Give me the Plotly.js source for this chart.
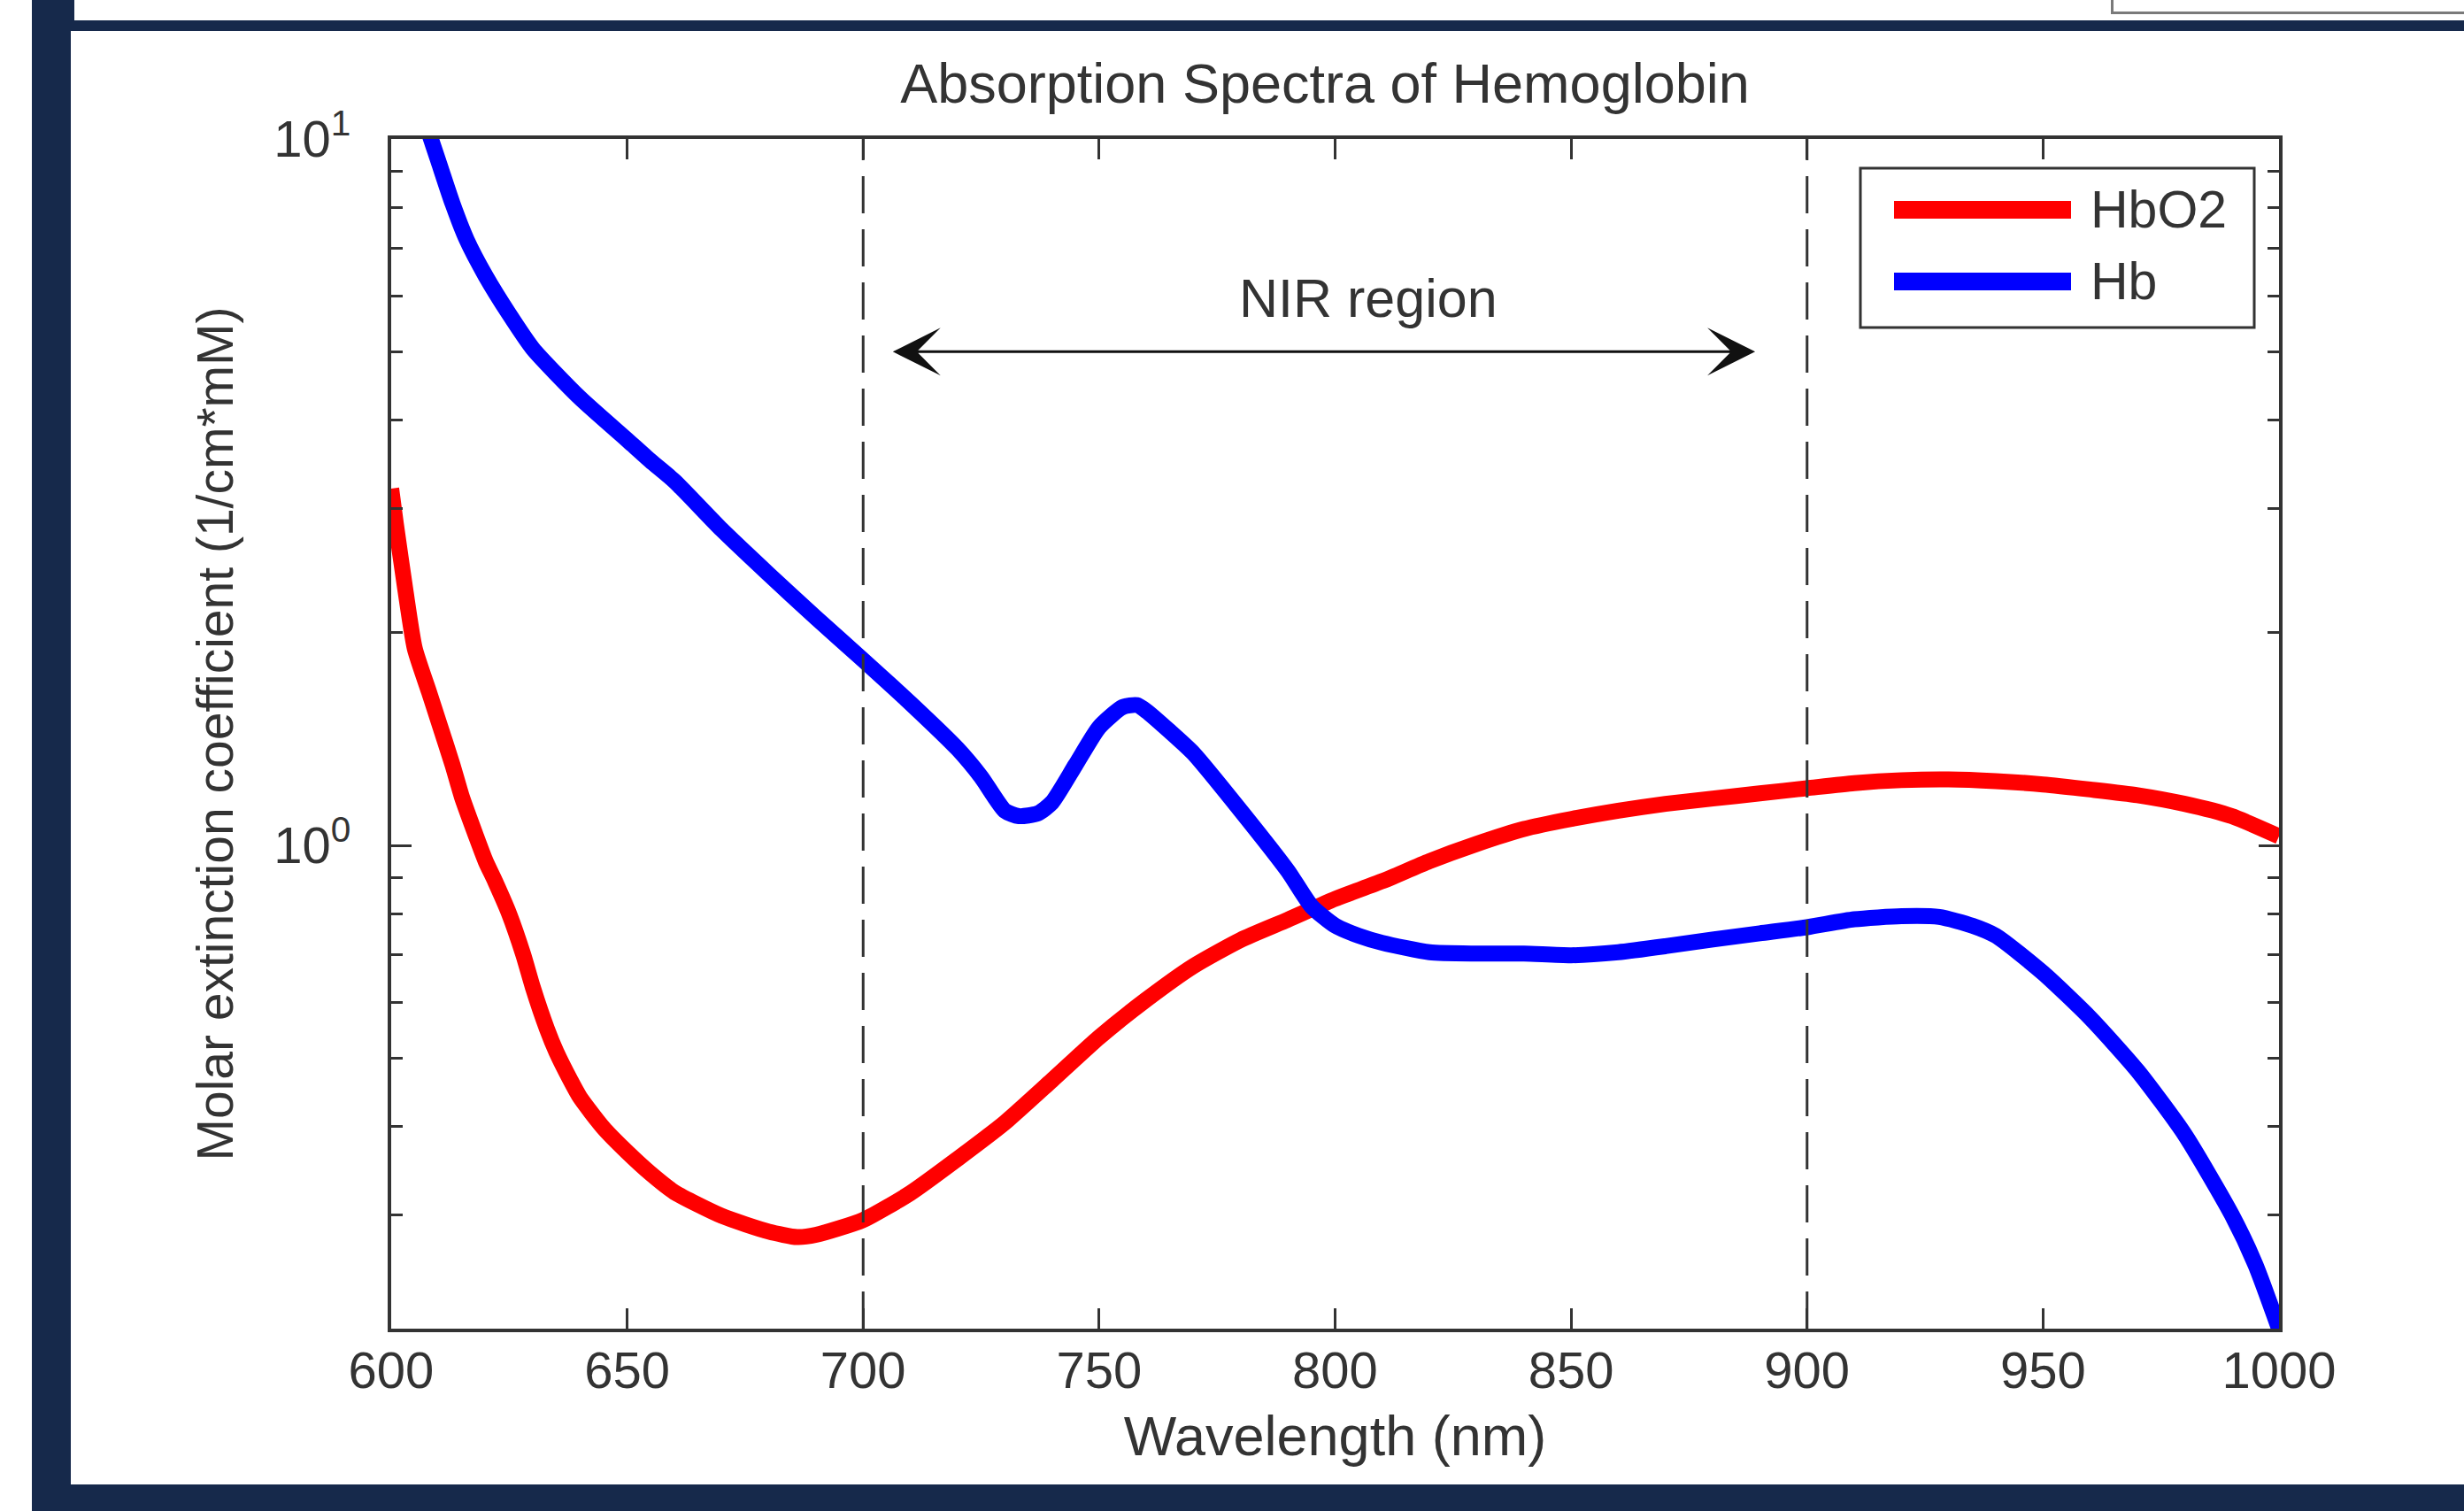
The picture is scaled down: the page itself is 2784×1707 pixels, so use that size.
<!DOCTYPE html>
<html>
<head>
<meta charset="utf-8">
<script src="https://cdn.plot.ly/plotly-3.0.1.min.js"></script>
<style>
  html, body { margin: 0; padding: 0; background: #ffffff; }
  #wrap { position: relative; width: 2784px; height: 1707px; overflow: hidden; background: #ffffff; }
  #chart { position: absolute; left: 0; top: 0; width: 2784px; height: 1707px; }
  .band { position: absolute; background: #16294b; z-index: 5; }
  #topbox { position: absolute; left: 2385px; top: -6px; width: 420px; height: 16px; border: 3px solid #7a7a7a; background: #fff; z-index: 5; }
</style>
</head>
<body>
<div id="wrap">
  <div id="chart"></div>
  <div class="band" style="left:36px; top:0px; width:44px; height:1707px;"></div>
  <div class="band" style="left:36px; top:0px; width:48px; height:35px;"></div>
  <div class="band" style="left:80px; top:23px; width:2704px; height:12px;"></div>
  <div class="band" style="left:36px; top:1677px; width:2748px; height:30px;"></div>
  <div id="topbox"></div>
</div>
<script>
// ---- data ----
var hbo2Wavelength = [600, 601, 603, 605, 608, 610, 613, 615, 618, 620, 622, 625, 628, 630, 633, 635, 638, 640, 645, 650, 655, 660, 670, 680, 686, 690, 700, 710, 720, 730, 740, 750, 760, 770, 780, 790, 800, 810, 820, 830, 840, 850, 860, 870, 880, 890, 900, 910, 920, 930, 940, 950, 960, 970, 980, 990, 1000];
var hbo2Values = [3.2, 2.85, 2.3, 1.9, 1.65, 1.5, 1.3, 1.17, 1.03, 0.95, 0.89, 0.8, 0.7, 0.63, 0.55, 0.51, 0.465, 0.44, 0.398, 0.368, 0.343, 0.323, 0.299, 0.284, 0.279, 0.281, 0.295, 0.322, 0.36, 0.405, 0.465, 0.535, 0.605, 0.675, 0.735, 0.785, 0.84, 0.89, 0.95, 1.005, 1.055, 1.09, 1.12, 1.145, 1.165, 1.185, 1.205, 1.225, 1.237, 1.24, 1.233, 1.22, 1.2, 1.178, 1.145, 1.1, 1.03];

var hbWavelength = [600, 605, 608, 610, 613, 616, 620, 625, 630, 640, 650, 655, 660, 670, 680, 690, 700, 710, 720, 725, 730, 733, 737, 740, 745, 750, 755, 758, 760, 765, 770, 780, 790, 795, 800, 805, 810, 820, 830, 840, 850, 860, 870, 880, 890, 900, 910, 920, 928, 935, 940, 950, 960, 970, 980, 990, 995, 1000];
var hbValues = [14.5, 11.8, 10.2, 9.3, 8.1, 7.2, 6.4, 5.65, 5.05, 4.3, 3.75, 3.5, 3.28, 2.8, 2.42, 2.1, 1.83, 1.59, 1.37, 1.25, 1.12, 1.1, 1.11, 1.15, 1.3, 1.47, 1.57, 1.58, 1.55, 1.45, 1.35, 1.12, 0.92, 0.82, 0.77, 0.745, 0.728, 0.706, 0.703, 0.703, 0.699, 0.706, 0.72, 0.736, 0.751, 0.766, 0.786, 0.794, 0.792, 0.77, 0.745, 0.66, 0.57, 0.48, 0.39, 0.30, 0.255, 0.207];

var seriesNames = ['HbO2', 'Hb'];
var seriesColors = ['#ff0000', '#0000ff'];

var xTickVals = [600, 650, 700, 750, 800, 850, 900, 950, 1000];
var xTickText = ['600', '650', '700', '750', '800', '850', '900', '950', '1000'];
var yTickVals = [1, 10];
var yTickText = ['10<sup>0</sup>', '10<sup>1</sup>'];
var yMinorVals = [0.3, 0.4, 0.5, 0.6, 0.7, 0.8, 0.9, 2, 3, 4, 5, 6, 7, 8, 9];

var nirBounds = [700, 900];
var nirArrow = [706, 889];
var nirArrowLevel = 5;
var nirLabel = 'NIR region';
var nirLabelPos = [807, 5.95];

var yRange = [0.207, 10];
var xRange = [600, 1000];

var chartTitle = 'Absorption Spectra of Hemoglobin';
var xTitle = 'Wavelength (nm)';
var yTitle = 'Molar extinction coefficient (1/cm*mM)';

// ---- figure ----
var W = 2784, H = 1707;
var M = {l: 442, r: 209, t: 157, b: 206};
var PW = W - M.l - M.r, PH = H - M.t - M.b;
function px2x(px) { return (px - M.l) / PW; }
function px2y(py) { return 1 - (py - M.t) / PH; }

var FONT = '"Liberation Sans", Arial, Helvetica, sans-serif';
var TXT = '#333333';

var traces = [
  {x: hbo2Wavelength, y: hbo2Values, type: 'scatter', mode: 'lines', name: seriesNames[0],
   line: {color: seriesColors[0], width: 18, shape: 'spline', smoothing: 0.6}, showlegend: false},
  {x: hbWavelength, y: hbValues, type: 'scatter', mode: 'lines', name: seriesNames[1],
   line: {color: seriesColors[1], width: 18, shape: 'spline', smoothing: 0.6}, showlegend: false}
];

var shapes = [];
nirBounds.forEach(function (b) {
  shapes.push({type: 'line', xref: 'x', yref: 'paper', x0: b, x1: b, y0: 0, y1: 1,
    line: {color: '#333333', width: 3, dash: '42px,18px'}, layer: 'above'});
});
// legend box (custom, to match long line samples)
var lg = {x0: 2102, x1: 2547, y0: 190, y1: 370};
shapes.push({type: 'rect', xref: 'paper', yref: 'paper', x0: px2x(lg.x0), x1: px2x(lg.x1), y0: px2y(lg.y1), y1: px2y(lg.y0),
  line: {color: '#333333', width: 3}, fillcolor: '#ffffff', layer: 'above'});
var legendRows = [237, 318];
var annotations = [];
seriesNames.forEach(function (nm, i) {
  shapes.push({type: 'line', xref: 'paper', yref: 'paper', x0: px2x(2140), x1: px2x(2340), y0: px2y(legendRows[i]), y1: px2y(legendRows[i]),
    line: {color: seriesColors[i], width: 20}, layer: 'above'});
  annotations.push({xref: 'paper', yref: 'paper', x: px2x(2360), y: px2y(legendRows[i]), xanchor: 'left', yanchor: 'middle',
    text: nm, showarrow: false, font: {family: FONT, size: 59, color: TXT}});
});

annotations.push({xref: 'x', yref: 'y', axref: 'x', ayref: 'y',
  x: nirArrow[1], y: Math.log10(nirArrowLevel), ax: nirArrow[0], ay: Math.log10(nirArrowLevel),
  text: '', showarrow: true, arrowside: 'end+start', arrowhead: 3, startarrowhead: 3,
  arrowsize: 3, startarrowsize: 3, arrowwidth: 3, arrowcolor: '#111111', standoff: 0, startstandoff: 0});
annotations.push({xref: 'x', yref: 'y', x: nirLabelPos[0], y: Math.log10(nirLabelPos[1]),
  text: nirLabel, showarrow: false, xanchor: 'center', yanchor: 'middle',
  font: {family: FONT, size: 61, color: TXT}});

var layout = {
  width: W, height: H,
  margin: {l: M.l, r: M.r, t: M.t, b: M.b, pad: 0},
  paper_bgcolor: '#ffffff', plot_bgcolor: '#ffffff',
  showlegend: false,
  font: {family: FONT, size: 58, color: TXT},
  title: {text: chartTitle, font: {family: FONT, size: 63, color: TXT},
    xref: 'container', yref: 'container', x: 1497 / W, xanchor: 'center', y: 1 - 94 / H, yanchor: 'middle'},
  xaxis: {
    range: xRange, tickmode: 'array', tickvals: xTickVals, ticktext: xTickText,
    ticks: 'inside', ticklen: 23, tickwidth: 3, tickcolor: '#333333',
    showline: true, linewidth: 4, linecolor: '#333333', mirror: 'ticks',
    showgrid: false, zeroline: false, ticklabelstandoff: -7,
    tickfont: {family: FONT, size: 58, color: TXT},
    title: {text: xTitle, font: {family: FONT, size: 63, color: TXT}, standoff: 22},
    automargin: false
  },
  yaxis: {
    type: 'log', range: [Math.log10(yRange[0]), Math.log10(yRange[1])],
    tickmode: 'array', tickvals: yTickVals, ticktext: yTickText,
    ticks: 'inside', ticklen: 23, tickwidth: 3, tickcolor: '#333333',
    minor: {tickmode: 'array', tickvals: yMinorVals, ticks: 'inside', ticklen: 13, tickwidth: 3, tickcolor: '#333333', showgrid: false},
    showline: true, linewidth: 4, linecolor: '#333333', mirror: 'ticks',
    showgrid: false, zeroline: false, ticklabelstandoff: 30,
    tickfont: {family: FONT, size: 58, color: TXT},
    title: {text: yTitle, font: {family: FONT, size: 57, color: TXT}, standoff: 28},
    automargin: false
  },
  shapes: shapes,
  annotations: annotations
};

Plotly.newPlot('chart', traces, layout, {staticPlot: true, displayModeBar: false});
</script>
</body>
</html>
